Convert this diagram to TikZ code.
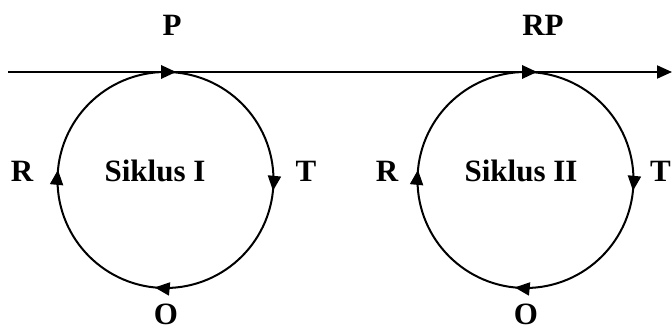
\documentclass[tikz,border=0pt]{standalone}
\usepackage{fontspec}
\setmainfont{Liberation Serif}
\usetikzlibrary{arrows.meta,decorations.markings}
\tikzset{
  x=1pt,y=1pt,
  lbl/.style={font=\fontsize{31}{36}\selectfont\bfseries, inner sep=0pt, anchor=base},
  cyc/.tip={Triangle[length=15pt,width=13pt]},
  ring/.style={line width=2pt, postaction={decorate},
    decoration={markings,
      mark=at position 0.266 with {\arrow{cyc}},
      mark=at position 0.516 with {\arrow{cyc}},
      mark=at position 0.765 with {\arrow{cyc}}}},
  flow/.style={line width=2pt}
}
\begin{document}
\begin{tikzpicture}
\useasboundingbox (0,0) rectangle (672,332);
% circle centres
\coordinate (c1) at (165.5,152);
\coordinate (c2) at (525.5,152);
\coordinate (s) at (8,260);
\coordinate (e) at (672,260);
\coordinate (a1) at (176,260);
\coordinate (a2) at (537,260);
% cycles (clockwise from the top)
\draw[ring] (c1) ++(0,108) arc[start angle=90, end angle=-270, radius=108];
\draw[ring] (c2) ++(0,108) arc[start angle=90, end angle=-270, radius=108];
% main line
\draw[flow, -{cyc}] (s) -- (e);
\fill (a1) -- ++(-15,7) -- ++(0,-14) -- cycle;
\fill (a2) -- ++(-15,7) -- ++(0,-14) -- cycle;
% labels
\node[lbl] (P) at (172,296) {P};
\node[lbl] (RP) at (543,296) {RP};
\node[lbl] (R1) at (22,150) {R};
\node[lbl] (S1) at (155,150) {Siklus I};
\node[lbl] (T1) at (306,150) {T};
\node[lbl] (O1) at (166,8) {O};
\node[lbl] (R2) at (387,150) {R};
\node[lbl] (S2) at (521,150) {Siklus II};
\node[lbl, anchor=base east] (T2) at (671,150) {T};
\node[lbl] (O2) at (526,8) {O};
\end{tikzpicture}
\end{document}
